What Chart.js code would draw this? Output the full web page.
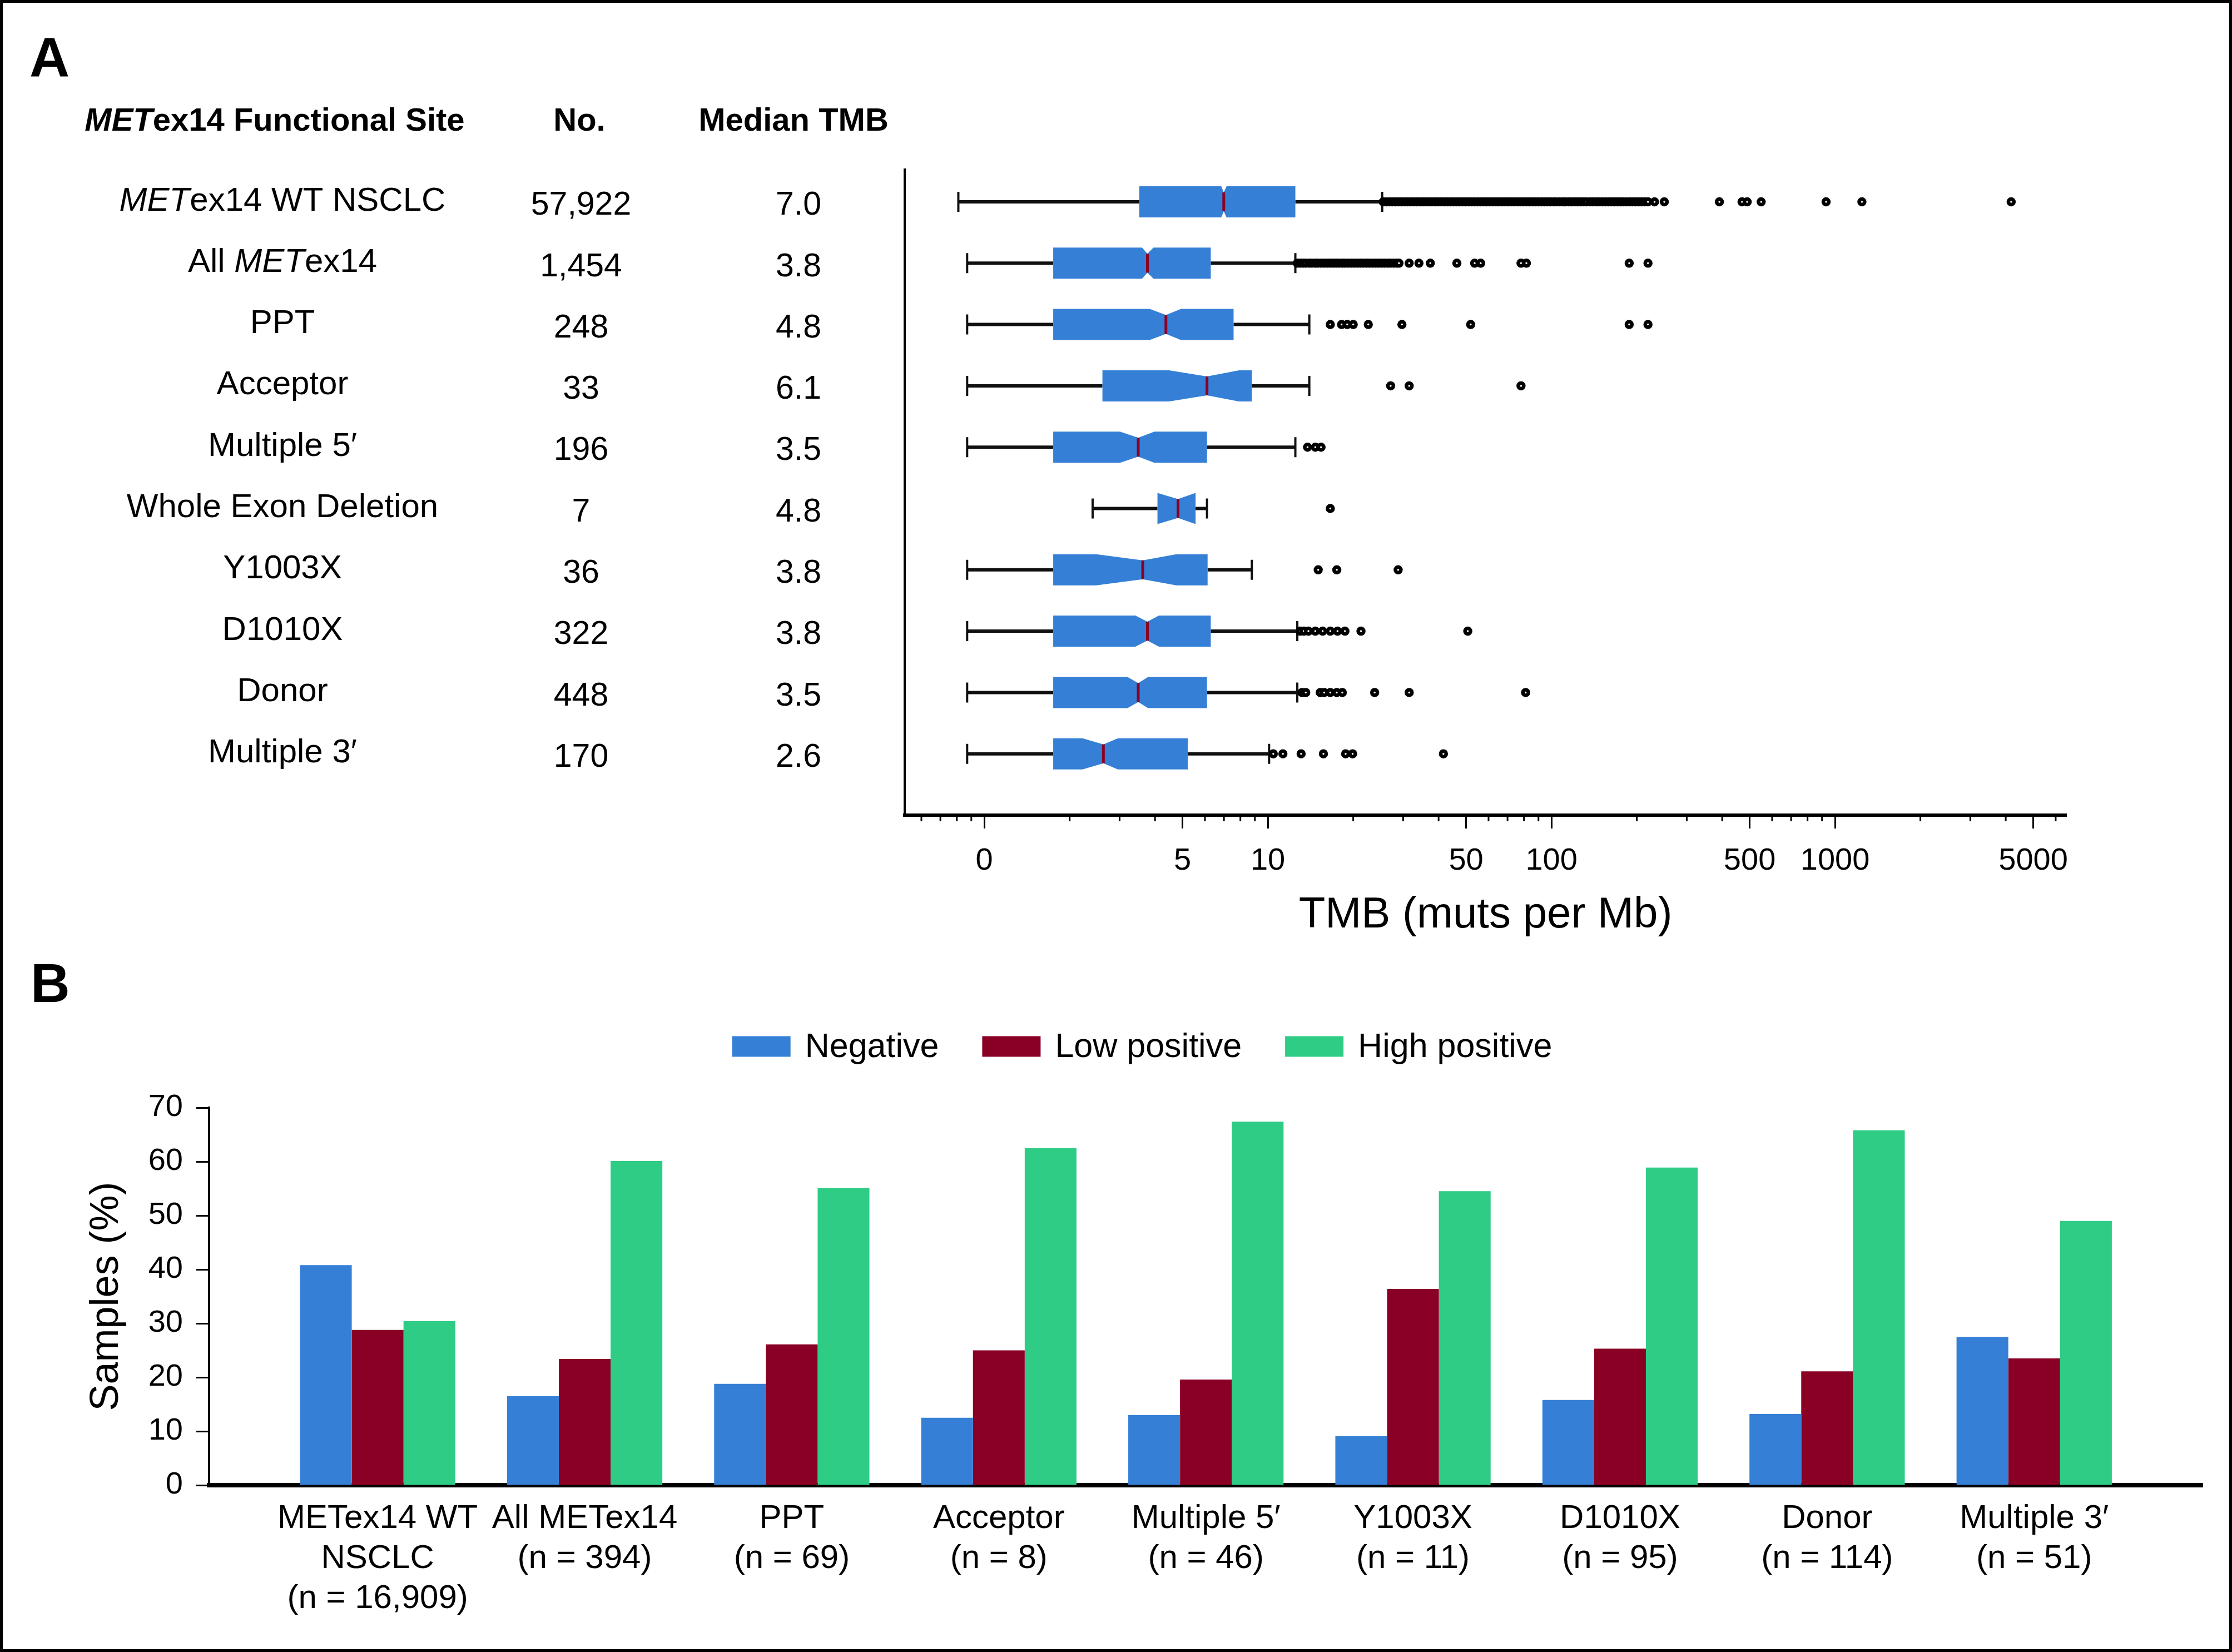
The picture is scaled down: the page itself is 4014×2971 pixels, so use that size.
<!DOCTYPE html>
<html>
<head>
<meta charset="utf-8">
<script src="https://cdn.jsdelivr.net/npm/chart.js@4.4.1/dist/chart.umd.min.js"></script>
<style>
  html, body { margin: 0; padding: 0; background: #fff; }
  body { width: 4014px; height: 2971px; position: relative; overflow: hidden; }
  canvas { position: absolute; left: 0; }
  #tmbChart { top: 0; }
  #pdl1Chart { top: 1720px; }
  #frame { position: absolute; left: 0; top: 0; width: 4014px; height: 2971px; box-sizing: border-box; border: 5px solid #000; pointer-events: none; }
</style>
</head>
<body>
<canvas id="tmbChart" width="4014" height="1720"></canvas>
<canvas id="pdl1Chart" width="4014" height="1251"></canvas>
<div id="frame"></div>
<script>
const FONT = '"Liberation Sans", Arial, Helvetica, sans-serif';
Chart.defaults.font.family = FONT;
Chart.defaults.color = '#000';

const boxBlue = '#3580d6';
const medianRed = '#8a0025';
const greenBar = '#2ecc85';

// ---- Panel A: TMB by METex14 functional site ----
const sites = ['METex14 WT NSCLC', 'All METex14', 'PPT', 'Acceptor', 'Multiple 5′',
  'Whole Exon Deletion', 'Y1003X', 'D1010X', 'Donor', 'Multiple 3′'];
const siteCounts = ['57,922', '1,454', '248', '33', '196', '7', '36', '322', '448', '170'];
const siteMedianTmb = ['7.0', '3.8', '4.8', '6.1', '3.5', '4.8', '3.8', '3.8', '3.5', '2.6'];

const whiskerLow  = [0.81, 0.87, 0.87, 0.87, 0.87, 2.41, 0.87, 0.87, 0.87, 0.87];
const boxQ1       = [3.52, 1.75, 1.75, 2.61, 1.75, 4.08, 1.75, 1.75, 1.75, 1.75];
const notchLow    = [6.85, 3.60, 3.83, 4.48, 3.01, 4.08, 2.48, 3.41, 3.20, 2.22];
const boxMedian   = [6.99, 3.76, 4.37, 6.10, 3.49, 4.82, 3.62, 3.76, 3.49, 2.63];
const notchHigh   = [7.15, 3.95, 4.94, 7.91, 3.98, 5.56, 4.76, 4.13, 3.78, 2.96];
const boxQ3       = [12.5, 6.29, 7.57, 8.78, 6.10, 5.56, 6.13, 6.29, 6.10, 5.22];
const whiskerHigh = [25.3, 12.5, 14.0, 14.0, 12.5, 6.10, 8.78, 12.7, 12.7, 10.1];

const outliers = [
  [25.5, 26.2, 26.9, 27.5, 28.2, 28.9, 29.6, 30.4, 31.1, 31.9, 32.7, 33.5, 34.4, 35.2, 36.1, 37,
   37.9, 38.9, 39.8, 40.8, 41.9, 42.9, 44, 45.1, 46.2, 47.3, 48.5, 49.7, 51, 52.2, 53.5, 54.9,
   56.3, 57.7, 59.1, 60.6, 62.1, 63.7, 65.2, 66.9, 68.5, 70.3, 72, 73.8, 75.7, 77.6, 79.5, 81.5,
   83.5, 85.6, 87.7, 89.9, 92.2, 94.5, 96.8, 99.3, 102, 104, 107, 110, 112, 115, 118, 121, 124,
   127, 130, 133, 137, 140, 144, 147, 151, 155, 159, 163, 167, 171, 175, 179, 184, 189, 193, 198,
   203, 208, 213, 219, 231, 250, 391, 470, 490, 549, 930, 1244, 4180],
  [12.7, 13.0, 13.3, 13.6, 14.0, 14.3, 14.7, 15.0, 15.4, 15.8, 16.2, 16.6, 17.0, 17.4, 17.8, 18.3,
   18.7, 19.2, 19.7, 20.2, 20.7, 21.2, 21.7, 22.3, 22.8, 23.4, 24.0, 24.6, 25.2, 25.8, 26.5, 27.1,
   27.8, 28.5, 29.0, 31.5, 34.1, 37.4, 46.4, 53.6, 56.3, 78.1, 81.6, 188, 219],
  [16.6, 18.2, 19.05, 20.0, 22.6, 29.7, 51.9, 188, 219],
  [27.1, 31.5, 78.1],
  [13.8, 14.7, 15.4],
  [16.6],
  [15.05, 17.5, 28.8],
  [13.0, 13.4, 13.9, 14.7, 15.6, 16.6, 17.6, 18.7, 21.3, 50.7],
  [13.2, 13.6, 15.3, 15.8, 16.6, 17.5, 18.3, 23.8, 31.5, 81.1],
  [10.45, 11.3, 13.1, 15.7, 18.8, 19.9, 41.6]
];

const tmbTickValues = [1, 5, 10, 50, 100, 500, 1000, 5000];
const tmbTickLabels = ['0', '5', '10', '50', '100', '500', '1000', '5000'];
const tmbMinorTicks = [0.6, 0.7, 0.8, 0.9, 2, 3, 4, 6, 7, 8, 9, 20, 30, 40, 60, 70, 80, 90,
  200, 300, 400, 600, 700, 800, 900, 2000, 3000, 4000, 6000];

// ---- Panel B: PD-L1 expression ----
const pdl1Labels = [
  ['METex14 WT', 'NSCLC', '(n = 16,909)'], ['All METex14', '(n = 394)'], ['PPT', '(n = 69)'],
  ['Acceptor', '(n = 8)'], ['Multiple 5′', '(n = 46)'], ['Y1003X', '(n = 11)'],
  ['D1010X', '(n = 95)'], ['Donor', '(n = 114)'], ['Multiple 3′', '(n = 51)']
];
const negative     = [40.8, 16.5, 18.8, 12.5, 13.0, 9.1, 15.8, 13.2, 27.5];
const lowPositive  = [28.8, 23.4, 26.1, 25.0, 19.6, 36.4, 25.3, 21.1, 23.5];
const highPositive = [30.4, 60.1, 55.1, 62.5, 67.4, 54.5, 58.9, 65.8, 49.0];
const pdl1Ticks = [0, 10, 20, 30, 40, 50, 60, 70];

// text with italic "MET" gene name, centred on cx
function drawSiteText(ctx, text, cx, cy, weight, size) {
  const parts = text.split(/(MET(?=ex14))/).filter(Boolean);
  const fontFor = p => (p === 'MET' ? 'italic ' : '') + weight + ' ' + size + 'px ' + FONT;
  let total = 0;
  parts.forEach(p => { ctx.font = fontFor(p); total += ctx.measureText(p).width; });
  let x = cx - total / 2;
  ctx.textAlign = 'left';
  parts.forEach(p => {
    ctx.font = fontFor(p);
    ctx.fillText(p, x, cy);
    x += ctx.measureText(p).width;
  });
}

const boxPlotPlugin = {
  id: 'boxPlot',
  beforeDatasetsDraw(chart) {
    const { ctx, scales: { x, y } } = chart;
    const px = v => x.getPixelForValue(v);
    const half = 28, waist = 17, capHalf = 18;
    ctx.save();
    sites.forEach((_, i) => {
      const cy = y.getPixelForValue(i);
      // whiskers
      ctx.strokeStyle = '#111';
      ctx.lineWidth = 6;
      ctx.beginPath();
      ctx.moveTo(px(whiskerLow[i]), cy); ctx.lineTo(px(boxQ1[i]), cy);
      ctx.moveTo(px(boxQ3[i]), cy); ctx.lineTo(px(whiskerHigh[i]), cy);
      ctx.stroke();
      ctx.lineWidth = 4;
      ctx.beginPath();
      [whiskerLow[i], whiskerHigh[i]].forEach(v => {
        ctx.moveTo(px(v), cy - capHalf); ctx.lineTo(px(v), cy + capHalf);
      });
      ctx.stroke();
      // notched box
      const xq1 = px(boxQ1[i]), xq3 = px(boxQ3[i]), xm = px(boxMedian[i]);
      const xnl = px(notchLow[i]), xnh = px(notchHigh[i]);
      ctx.fillStyle = boxBlue;
      ctx.beginPath();
      ctx.moveTo(xq1, cy - half);
      ctx.lineTo(xnl, cy - half);
      ctx.lineTo(xm, cy - waist);
      ctx.lineTo(xnh, cy - half);
      ctx.lineTo(xq3, cy - half);
      ctx.lineTo(xq3, cy + half);
      ctx.lineTo(xnh, cy + half);
      ctx.lineTo(xm, cy + waist);
      ctx.lineTo(xnl, cy + half);
      ctx.lineTo(xq1, cy + half);
      ctx.closePath();
      ctx.fill();
      // median
      ctx.strokeStyle = medianRed;
      ctx.lineWidth = 5;
      ctx.beginPath();
      ctx.moveTo(xm, cy - waist); ctx.lineTo(xm, cy + waist);
      ctx.stroke();
    });
    ctx.restore();
  }
};

const minorTickPlugin = {
  id: 'minorTicks',
  afterDraw(chart) {
    const { ctx, chartArea, scales: { x } } = chart;
    ctx.save();
    ctx.strokeStyle = '#000';
    ctx.lineWidth = 3;
    ctx.beginPath();
    tmbMinorTicks.forEach(v => {
      const p = x.getPixelForValue(v);
      ctx.moveTo(p, chartArea.bottom);
      ctx.lineTo(p, chartArea.bottom + 11);
    });
    ctx.stroke();
    ctx.restore();
  }
};

const tablePlugin = {
  id: 'siteTable',
  afterDraw(chart) {
    const { ctx, scales: { y } } = chart;
    ctx.save();
    ctx.fillStyle = '#000';
    ctx.textBaseline = 'alphabetic';
    ctx.textAlign = 'left';
    ctx.font = 'bold 100px ' + FONT;
    ctx.fillText('A', 53, 138);

    ctx.textBaseline = 'middle';
    drawSiteText(ctx, 'METex14 Functional Site', 494, 219, 'bold', 58);
    drawSiteText(ctx, 'No.', 1042, 219, 'bold', 58);
    drawSiteText(ctx, 'Median TMB', 1427, 219, 'bold', 58);

    sites.forEach((s, i) => {
      const cy = y.getPixelForValue(i);
      drawSiteText(ctx, s, 508, cy - 1, 'normal', 60);
      ctx.font = '59px ' + FONT;
      ctx.textAlign = 'center';
      ctx.fillText(siteCounts[i], 1045, cy + 7);
      ctx.fillText(siteMedianTmb[i], 1436, cy + 7);
    });
    ctx.restore();
  }
};

const outlierPoints = outliers.flatMap((vals, i) => vals.map(v => ({ x: v, y: i })));

new Chart(document.getElementById('tmbChart'), {
  type: 'scatter',
  data: {
    datasets: [{
      label: 'Outliers',
      data: outlierPoints,
      pointRadius: 5,
      borderWidth: 6.5,
      backgroundColor: '#fff',
      borderColor: '#000'
    }]
  },
  options: {
    responsive: false,
    animation: false,
    layout: { padding: { left: 1627, right: 298, top: 305, bottom: 0 } },
    scales: {
      x: {
        type: 'logarithmic',
        min: 0.524,
        max: 6540,
        afterBuildTicks: s => { s.ticks = tmbTickValues.map(v => ({ value: v })); },
        afterFit: s => { s.height = 254; },
        ticks: {
          autoSkip: false,
          maxRotation: 0,
          padding: 25,
          font: { size: 56 },
          callback: (v, idx) => tmbTickLabels[idx]
        },
        grid: { display: true, drawOnChartArea: false, drawTicks: true, tickLength: 24, tickWidth: 3, tickColor: '#000' },
        border: { display: true, color: '#000', width: 6 },
        title: { display: true, text: 'TMB (muts per Mb)', font: { size: 78 }, padding: { top: 0, bottom: 27 } }
      },
      y: {
        type: 'linear',
        reverse: true,
        min: -0.526,
        max: 10,
        afterFit: s => { s.width = 0; },
        ticks: { display: false },
        grid: { display: false, drawTicks: false },
        border: { display: true, color: '#000', width: 4 }
      }
    },
    plugins: { legend: { display: false }, tooltip: { enabled: false } }
  },
  plugins: [boxPlotPlugin, minorTickPlugin, tablePlugin]
});

// ---- Panel B chart ----
const pdl1Legend = {
  id: 'pdl1Legend',
  afterDraw(chart) {
    const { ctx } = chart;
    ctx.save();
    ctx.font = '61px ' + FONT;
    const items = chart.data.datasets.map(d => ({
      text: d.label, color: d.backgroundColor, w: 105 + 26 + ctx.measureText(d.label).width
    }));
    const gap = 78;
    const total = items.reduce((s, it) => s + it.w, 0) + gap * (items.length - 1);
    let x = 2054 - total / 2;
    const cy = 162;
    ctx.textAlign = 'left';
    ctx.textBaseline = 'middle';
    items.forEach(it => {
      ctx.fillStyle = it.color;
      ctx.fillRect(x, cy - 18.5, 105, 37);
      ctx.fillStyle = '#000';
      ctx.fillText(it.text, x + 131, cy + 2);
      x += it.w + gap;
    });
    ctx.font = 'bold 98px ' + FONT;
    ctx.textBaseline = 'alphabetic';
    ctx.fillText('B', 55, 82);
    ctx.restore();
  }
};

new Chart(document.getElementById('pdl1Chart'), {
  type: 'bar',
  data: {
    datasets: [
      { label: 'Negative', data: negative.map((v, i) => ({ x: i, y: v })), backgroundColor: boxBlue },
      { label: 'Low positive', data: lowPositive.map((v, i) => ({ x: i, y: v })), backgroundColor: medianRed },
      { label: 'High positive', data: highPositive.map((v, i) => ({ x: i, y: v })), backgroundColor: greenBar }
    ]
  },
  options: {
    responsive: false,
    animation: false,
    layout: { padding: { left: 0, right: 53, top: 272, bottom: 0 } },
    datasets: { bar: { categoryPercentage: 0.75, barPercentage: 1 } },
    scales: {
      x: {
        type: 'linear',
        offset: false,
        min: -0.814,
        max: 8.813,
        afterBuildTicks: s => { s.ticks = pdl1Labels.map((_, i) => ({ value: i })); },
        afterFit: s => { s.height = 300; },
        ticks: {
          autoSkip: false,
          maxRotation: 0,
          padding: 24,
          font: { size: 60, lineHeight: 1.2 },
          callback: (v, idx) => pdl1Labels[idx]
        },
        grid: { display: false, drawTicks: false },
        border: { display: true, color: '#000', width: 8 }
      },
      y: {
        min: 0,
        max: 70,
        afterBuildTicks: s => { s.ticks = pdl1Ticks.map(v => ({ value: v })); },
        afterFit: s => { s.width = 376; },
        ticks: { padding: 24, font: { size: 56 } },
        grid: { drawOnChartArea: false, tickLength: 23, tickWidth: 3, tickColor: '#000' },
        border: { display: true, color: '#000', width: 4 },
        title: { display: true, text: 'Samples (%)', font: { size: 72 }, padding: { top: 149, bottom: 0 } }
      }
    },
    plugins: { legend: { display: false }, tooltip: { enabled: false } }
  },
  plugins: [pdl1Legend]
});
</script>
</body>
</html>
